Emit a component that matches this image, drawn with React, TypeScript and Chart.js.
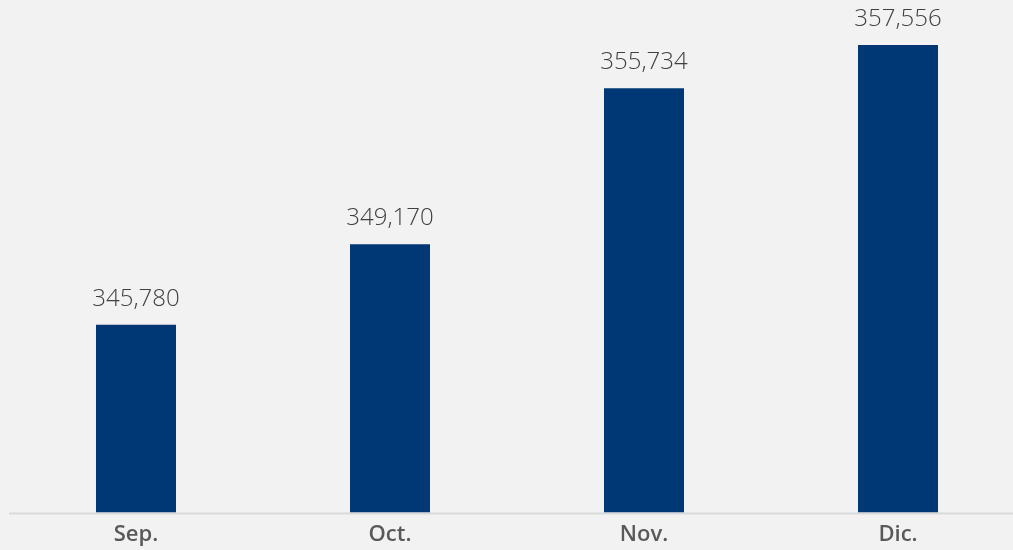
import React, { useEffect, useRef } from "react";
import { Chart, registerables } from "chart.js";

Chart.register(...registerables);

const categories = ["Sep.", "Oct.", "Nov.", "Dic."];
const values = [345780, 349170, 355734, 357556];
const valueLabels = ["345,780", "349,170", "355,734", "357,556"];

const valueLabelPlugin = {
  id: "valueLabels",
  afterDatasetsDraw(chart: any) {
    const ctx = chart.ctx;
    const meta = chart.getDatasetMeta(0);
    ctx.save();
    ctx.font = "300 24px 'Open Sans', sans-serif";
    ctx.fillStyle = "#404040";
    ctx.textAlign = "center";
    ctx.textBaseline = "middle";
    meta.data.forEach((bar: any, i: number) => {
      ctx.fillText(valueLabels[i], bar.x, bar.y - 26);
    });
    ctx.restore();
  },
};

const baselinePlugin = {
  id: "baseline",
  afterDatasetsDraw(chart: any) {
    const ctx = chart.ctx;
    const area = chart.chartArea;
    ctx.save();
    ctx.strokeStyle = "#d9d9d9";
    ctx.lineWidth = 2;
    ctx.beginPath();
    ctx.moveTo(area.left, area.bottom + 1);
    ctx.lineTo(area.right, area.bottom + 1);
    ctx.stroke();
    ctx.restore();
  },
};

export default function App() {
  const ref = useRef<HTMLCanvasElement>(null);
  useEffect(() => {
    document.body.style.margin = "0";
    document.body.style.background = "#f2f2f2";
    document.body.style.overflow = "hidden";
    const chart = new Chart(ref.current!, {
      type: "bar",
      data: {
        labels: categories,
        datasets: [
          {
            data: values,
            backgroundColor: "#003876",
            barPercentage: 0.63,
            categoryPercentage: 0.5,
          },
        ],
      },
      options: {
        animation: false,
        responsive: false,
        layout: { padding: { left: 9, right: 5, top: 0, bottom: -7 } },
        plugins: { legend: { display: false }, tooltip: { enabled: false } },
        scales: {
          x: {
            grid: { display: false, drawTicks: false },
            border: { display: false },
            ticks: {
              color: "#595959",
              font: { family: "'Open Sans', sans-serif", size: 22, weight: "600" },
              padding: 9,
            },
          },
          y: {
            display: false,
            min: 337870,
            max: 359450,
          },
        },
      },
      plugins: [valueLabelPlugin, baselinePlugin],
    });
    return () => chart.destroy();
  }, []);
  return (
    <div style={{ position: "absolute", left: 0, top: 0, width: 1013, height: 550, overflow: "hidden", background: "#f2f2f2" }}>
      <canvas ref={ref} width={1030} height={550} style={{ width: 1030, height: 550 }} />
    </div>
  );
}
